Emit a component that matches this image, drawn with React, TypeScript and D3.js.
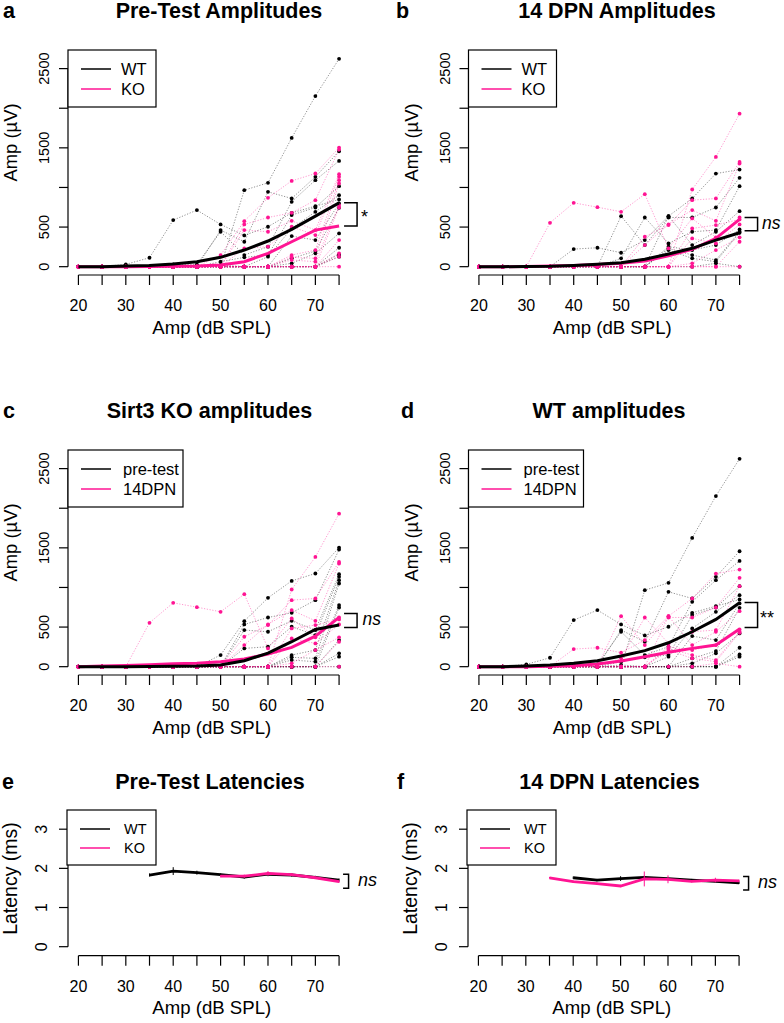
import React from "react";
import * as d3 from "d3";

// sound levels (dB SPL)
const levels = [20, 25, 30, 35, 40, 45, 50, 55, 60, 65, 70, 75];
const xTickLabels = [20, 30, 40, 50, 60, 70];
const ampTicks = [0, 500, 1000, 1500, 2000, 2500];
const ampTickLabels = [0, 500, 1500, 2500];
const latTicks = [0, 1, 2, 3];

// individual animals, amplitude (uV) at each level
const wtPreTraces = [
  [0, 0, 29, 113, 588, 714, 533, 395, 504, 680, 764, 848],
  [0, 0, 0, 0, 0, 0, 0, 966, 1058, 1625, 2154, 2624],
  [0, 0, 0, 0, 0, 0, 462, 315, 945, 861, 1134, 1457],
  [0, 0, 0, 0, 29, 29, 441, 147, 252, 819, 1092, 1335],
  [0, 0, 0, 0, 0, 0, 63, 118, 147, 651, 747, 1016],
  [0, 0, 0, 0, 0, 0, 21, 0, 126, 483, 693, 903],
  [0, 0, 0, 0, 0, 0, 0, 0, 0, 386, 336, 798],
  [0, 0, 0, 0, 0, 0, 0, 0, 0, 105, 197, 743],
  [0, 0, 0, 0, 0, 0, 0, 0, 0, 42, 168, 420],
  [0, 0, 0, 0, 0, 0, 0, 0, 0, 0, 0, 239],
  [0, 0, 0, 0, 0, 0, 0, 0, 0, 0, 0, 155],
  [0, 0, 0, 0, 0, 0, 0, 0, 0, 0, 0, 126],
];
const koPreTraces = [
  [0, 0, 0, 0, 0, 0, 147, 575, 869, 1083, 1176, 1503],
  [0, 0, 0, 0, 0, 0, 0, 533, 621, 680, 840, 1478],
  [0, 0, 0, 0, 0, 0, 0, 462, 441, 579, 462, 1167],
  [0, 0, 0, 0, 0, 0, 0, 231, 252, 504, 399, 1134],
  [0, 0, 0, 0, 0, 0, 0, 0, 0, 147, 210, 1092],
  [0, 0, 0, 0, 0, 0, 0, 0, 0, 118, 105, 1050],
  [0, 0, 0, 0, 0, 0, 0, 0, 0, 84, 63, 777],
  [0, 0, 0, 0, 0, 0, 0, 0, 0, 0, 0, 747],
  [0, 0, 0, 0, 0, 0, 0, 0, 0, 0, 0, 336],
  [0, 0, 0, 0, 0, 0, 0, 0, 0, 0, 0, 168],
  [0, 0, 0, 0, 0, 0, 0, 0, 0, 0, 0, 126],
  [0, 0, 0, 0, 0, 0, 0, 0, 0, 0, 0, 0],
];
const wtDpnTraces = [
  [0, 0, 0, 0, 222, 239, 176, 336, 638, 861, 1175, 1226],
  [0, 0, 0, 0, 0, 0, 638, 273, 621, 621, 747, 1121],
  [0, 0, 0, 0, 0, 0, 105, 621, 294, 441, 462, 1016],
  [0, 0, 0, 0, 0, 0, 0, 0, 638, 273, 441, 701],
  [0, 0, 0, 0, 0, 0, 0, 0, 252, 210, 273, 470],
  [0, 0, 0, 0, 0, 0, 0, 0, 231, 147, 84, 441],
  [0, 0, 0, 0, 0, 0, 0, 0, 210, 105, 63, 428],
  [0, 0, 0, 0, 0, 0, 0, 0, 0, 0, 42, 0],
];
const koDpnTraces = [
  [0, 0, 0, 554, 806, 751, 693, 915, 231, 609, 370, 621],
  [0, 0, 0, 0, 0, 0, 0, 0, 0, 974, 1385, 1931],
  [0, 0, 0, 0, 0, 0, 0, 378, 525, 840, 861, 1322],
  [0, 0, 0, 0, 0, 0, 0, 273, 533, 714, 579, 1301],
  [0, 0, 0, 0, 0, 0, 0, 0, 0, 483, 525, 596],
  [0, 0, 0, 0, 0, 0, 0, 0, 0, 357, 294, 533],
  [0, 0, 0, 0, 0, 0, 0, 0, 0, 42, 210, 370],
  [0, 0, 0, 0, 0, 0, 0, 0, 0, 0, 0, 315],
  [0, 0, 0, 0, 0, 0, 0, 0, 0, 0, 0, 0],
];

// group means drawn in each panel
const meanA_wt = [0, 0, 8, 15, 34, 63, 118, 210, 324, 471, 638, 806];
const meanA_ko = [0, 0, 0, 2, 4, 8, 21, 63, 169, 315, 462, 513];
const meanB_wt = [0, 0, 3, 5, 15, 30, 50, 93, 160, 232, 336, 428];
const meanB_ko = [0, 0, 3, 8, 15, 28, 43, 72, 139, 219, 358, 597];
const meanC_pre = [0, 0, 0, 3, 6, 10, 21, 75, 172, 315, 470, 525];
const meanC_dpn = [0, 8, 15, 25, 37, 42, 63, 97, 160, 244, 386, 622];
const meanD_pre = [0, 0, 8, 21, 42, 75, 135, 202, 302, 441, 597, 806];
const meanD_dpn = [0, 0, 0, 5, 13, 34, 72, 126, 181, 231, 273, 475];

// latencies (ms), mean and SE
const latPreWtLevels = [35, 40, 45, 50, 55, 60, 65, 70, 75];
const latPreWt = [1.83, 1.93, 1.89, 1.84, 1.78, 1.85, 1.83, 1.77, 1.7];
const latPreWtSe = [0.04, 0.1, 0.05, 0.03, 0.04, 0.05, 0.04, 0.04, 0.04];
const latPreKoLevels = [50, 55, 60, 65, 70, 75];
const latPreKo = [1.8, 1.8, 1.87, 1.84, 1.76, 1.66];
const latPreKoSe = [0.03, 0.04, 0.06, 0.04, 0.03, 0.03];
const latDpnWtLevels = [40, 45, 50, 55, 60, 65, 70, 75];
const latDpnWt = [1.76, 1.7, 1.74, 1.77, 1.74, 1.7, 1.67, 1.63];
const latDpnWtSe = [0.03, 0.03, 0.06, 0.04, 0.03, 0.03, 0.03, 0.03];
const latDpnKoLevels = [35, 40, 45, 50, 55, 60, 65, 70, 75];
const latDpnKo = [1.76, 1.66, 1.61, 1.55, 1.73, 1.72, 1.67, 1.7, 1.68];
const latDpnKoSe = [0.02, 0.03, 0.03, 0.03, 0.19, 0.1, 0.03, 0.06, 0.03];

const FONT = "'Liberation Sans', Arial, Helvetica, sans-serif";
const PINK = "#FF1493";

const xDomain: [number, number] = [17.8, 77.2];

function XAxis({ x, y }: { x: d3.ScaleLinear<number, number>; y: number }) {
  return (
    <g>
      <line x1={x(20)} x2={x(75)} y1={y} y2={y} stroke="#000" strokeWidth={1.2} />
      {levels.map((l) => (
        <line key={l} x1={x(l)} x2={x(l)} y1={y} y2={y + 10} stroke="#000" strokeWidth={1.2} />
      ))}
      {xTickLabels.map((l) => (
        <text key={l} x={x(l)} y={y + 36} fontSize={16} textAnchor="middle">
          {l}
        </text>
      ))}
    </g>
  );
}

function Legend({
  x,
  y,
  w,
  labels,
  textDx,
  fs,
  rowH,
}: {
  x: number;
  y: number;
  w: number;
  labels: string[];
  textDx: number;
  fs: number;
  rowH: number;
}) {
  const h = rowH * 2 + 17;
  return (
    <g>
      <rect x={x} y={y} width={w} height={h} fill="#fff" stroke="#000" strokeWidth={1.2} />
      {labels.map((lab, i) => {
        const cy = y + 19 + i * rowH;
        return (
          <g key={lab}>
            <line x1={x + 13} x2={x + 43} y1={cy} y2={cy} stroke={i === 0 ? "#000" : PINK} strokeWidth={1.5} />
            <text x={x + textDx} y={cy + fs * 0.36} fontSize={fs}>
              {lab}
            </text>
          </g>
        );
      })}
    </g>
  );
}

function Bracket({
  x1,
  x2,
  yTop,
  yBot,
  text,
  tx,
  italic,
  fs,
}: {
  x1: number;
  x2: number;
  yTop: number;
  yBot: number;
  text: string;
  tx: number;
  italic: boolean;
  fs: number;
}) {
  const mid = (yTop + yBot) / 2;
  return (
    <g>
      <path d={`M${x1},${yTop}H${x2}V${yBot}H${x1}`} fill="none" stroke="#000" strokeWidth={1.5} />
      <text
        x={tx}
        y={italic ? mid + fs * 0.27 : mid + fs * 0.5}
        fontSize={fs}
        fontStyle={italic ? "italic" : "normal"}
      >
        {text}
      </text>
    </g>
  );
}

interface AmpProps {
  ox: number;
  oy: number;
  label: string;
  labelX: number;
  title: string;
  titleX: number;
  blackTraces: number[][];
  pinkTraces: number[][];
  blackMean: number[];
  pinkMean: number[];
  legendLabels: string[];
  legendW: number;
  legendDx: number;
  bracket: [number, number];
  sig: string;
  sigItalic: boolean;
  sigX: number;
}

function AmpPanel(p: AmpProps) {
  const x = d3.scaleLinear().domain(xDomain).range([p.ox + 68, p.ox + 349.5]);
  const y = d3.scaleLinear().domain([-105, 2735]).range([p.oy + 275, p.oy + 50]);
  const line = d3
    .line<number>()
    .x((_, i) => x(levels[i]))
    .y((d) => y(d));
  const axX = p.ox + 68;
  const traces = (set: number[][], color: string, key: string) =>
    set.map((t, ti) => (
      <g key={key + ti}>
        <path d={line(t) || ""} fill="none" stroke={color} strokeOpacity={0.55} strokeWidth={0.8} strokeDasharray="1.2 1.6" />
        {t.map((v, i) => (
          <circle key={i} cx={x(levels[i])} cy={y(v)} r={1.9} fill={color} />
        ))}
      </g>
    ));
  const x75 = x(75);
  return (
    <g>
      <text x={p.labelX} y={p.oy + 17.5} fontSize={21.5} fontWeight="bold">
        {p.label}
      </text>
      <text x={p.titleX} y={p.oy + 17.5} fontSize={21.5} fontWeight="bold" textAnchor="middle">
        {p.title}
      </text>
      {/* y axis */}
      <line x1={axX} x2={axX} y1={y(0)} y2={y(2500)} stroke="#000" strokeWidth={1.2} />
      {ampTicks.map((t) => (
        <line key={t} x1={axX - 9} x2={axX} y1={y(t)} y2={y(t)} stroke="#000" strokeWidth={1.2} />
      ))}
      {ampTickLabels.map((t) => (
        <text key={t} transform={`translate(${p.ox + 49},${y(t)}) rotate(-90)`} fontSize={14.5} textAnchor="middle">
          {t}
        </text>
      ))}
      <text transform={`translate(${p.ox + 17},${p.oy + 142.5}) rotate(-90)`} fontSize={18.4} textAnchor="middle">
        Amp (µV)
      </text>
      <XAxis x={x} y={p.oy + 275} />
      <text x={(x(20) + x(75)) / 2 + 3} y={p.oy + 334} fontSize={18.6} textAnchor="middle">
        Amp (dB SPL)
      </text>
      {traces(p.blackTraces, "#000", "b")}
      {traces(p.pinkTraces, PINK, "p")}
      <path d={line(p.pinkMean) || ""} fill="none" stroke={PINK} strokeWidth={3} />
      <path d={line(p.blackMean) || ""} fill="none" stroke="#000" strokeWidth={3} />
      <Legend x={axX} y={p.oy + 50} w={p.legendW} labels={p.legendLabels} textDx={p.legendDx} fs={16.5} rowH={20} />
      <Bracket
        x1={x75 + 5}
        x2={x75 + 18}
        yTop={y(p.bracket[1])}
        yBot={y(p.bracket[0])}
        text={p.sig}
        tx={p.sigX}
        italic={p.sigItalic}
        fs={p.sigItalic ? 17.5 : 18}
      />
    </g>
  );
}

interface LatSeries {
  lv: number[];
  m: number[];
  se: number[];
  color: string;
}

interface LatProps {
  ox: number;
  label: string;
  labelX: number;
  title: string;
  titleX: number;
  series: LatSeries[];
  bracket: [number, number];
}

function LatPanel(p: LatProps) {
  const x = d3.scaleLinear().domain(xDomain).range([p.ox + 68, p.ox + 349.5]);
  const y = d3.scaleLinear().domain([-0.23, 3.49]).range([955.7, 810]);
  const axX = p.ox + 68;
  const x75 = x(75);
  return (
    <g>
      <text x={p.labelX} y={788.5} fontSize={21.5} fontWeight="bold">
        {p.label}
      </text>
      <text x={p.titleX} y={788.5} fontSize={21.5} fontWeight="bold" textAnchor="middle">
        {p.title}
      </text>
      <line x1={axX} x2={axX} y1={y(0)} y2={y(3)} stroke="#000" strokeWidth={1.2} />
      {latTicks.map((t) => (
        <g key={t}>
          <line x1={axX - 9} x2={axX} y1={y(t)} y2={y(t)} stroke="#000" strokeWidth={1.2} />
          <text transform={`translate(${p.ox + 47},${y(t)}) rotate(-90)`} fontSize={16} textAnchor="middle">
            {t}
          </text>
        </g>
      ))}
      <text transform={`translate(${p.ox + 17},${878.5}) rotate(-90)`} fontSize={19.5} textAnchor="middle">
        Latency (ms)
      </text>
      <XAxis x={x} y={955.7} />
      <text x={(x(20) + x(75)) / 2 + 3} y={1014.3} fontSize={18.6} textAnchor="middle">
        Amp (dB SPL)
      </text>
      {p.series.map((s, si) => {
        const line = d3
          .line<number>()
          .x((_, i) => x(s.lv[i]))
          .y((d) => y(d));
        return (
          <g key={si}>
            <path d={line(s.m) || ""} fill="none" stroke={s.color} strokeWidth={2.8} />
            {s.m.map((v, i) => (
              <line
                key={i}
                x1={x(s.lv[i])}
                x2={x(s.lv[i])}
                y1={y(v - s.se[i])}
                y2={y(v + s.se[i])}
                stroke={s.color}
                strokeWidth={1}
              />
            ))}
          </g>
        );
      })}
      <Legend x={axX - 1} y={810} w={89} labels={["WT", "KO"]} textDx={57} fs={14.5} rowH={19} />
      <Bracket
        x1={x75 + 4}
        x2={x75 + 9.5}
        yTop={y(p.bracket[1])}
        yBot={y(p.bracket[0])}
        text="ns"
        tx={p.ox + 358}
        italic={true}
        fs={18}
      />
    </g>
  );
}

export default function App() {
  return (
    <svg
      width={784}
      height={1023}
      style={{ position: "absolute", left: 0, top: 0, background: "#fff" }}
      fontFamily={FONT}
    >
      <rect width={784} height={1023} fill="#fff" />
      <AmpPanel
        ox={0}
        oy={0}
        label="a"
        labelX={3}
        title="Pre-Test Amplitudes"
        titleX={219}
        blackTraces={wtPreTraces}
        pinkTraces={koPreTraces}
        blackMean={meanA_wt}
        pinkMean={meanA_ko}
        legendLabels={["WT", "KO"]}
        legendW={88}
        legendDx={53}
        bracket={[513, 806]}
        sig="*"
        sigItalic={false}
        sigX={361}
      />
      <AmpPanel
        ox={400.5}
        oy={0}
        label="b"
        labelX={396}
        title="14 DPN Amplitudes"
        titleX={617}
        blackTraces={wtDpnTraces}
        pinkTraces={koDpnTraces}
        blackMean={meanB_wt}
        pinkMean={meanB_ko}
        legendLabels={["WT", "KO"]}
        legendW={88}
        legendDx={53}
        bracket={[453, 621]}
        sig="ns"
        sigItalic={true}
        sigX={762}
      />
      <AmpPanel
        ox={0}
        oy={400}
        label="c"
        labelX={3}
        title="Sirt3 KO amplitudes"
        titleX={209.5}
        blackTraces={koPreTraces}
        pinkTraces={koDpnTraces}
        blackMean={meanC_pre}
        pinkMean={meanC_dpn}
        legendLabels={["pre-test", "14DPN"]}
        legendW={115}
        legendDx={55}
        bracket={[495, 672]}
        sig="ns"
        sigItalic={true}
        sigX={362.5}
      />
      <AmpPanel
        ox={400.5}
        oy={400}
        label="d"
        labelX={401}
        title="WT amplitudes"
        titleX={609}
        blackTraces={wtPreTraces}
        pinkTraces={wtDpnTraces}
        blackMean={meanD_pre}
        pinkMean={meanD_dpn}
        legendLabels={["pre-test", "14DPN"]}
        legendW={115}
        legendDx={55}
        bracket={[495, 810]}
        sig="**"
        sigItalic={false}
        sigX={760}
      />
      <LatPanel
        ox={0}
        label="e"
        labelX={2}
        title="Pre-Test Latencies"
        titleX={210}
        series={[
          { lv: latPreWtLevels, m: latPreWt, se: latPreWtSe, color: "#000" },
          { lv: latPreKoLevels, m: latPreKo, se: latPreKoSe, color: PINK },
        ]}
        bracket={[1.49, 1.85]}
      />
      <LatPanel
        ox={400}
        label="f"
        labelX={397}
        title="14 DPN Latencies"
        titleX={609.5}
        series={[
          { lv: latDpnWtLevels, m: latDpnWt, se: latDpnWtSe, color: "#000" },
          { lv: latDpnKoLevels, m: latDpnKo, se: latDpnKoSe, color: PINK },
        ]}
        bracket={[1.45, 1.79]}
      />
    </svg>
  );
}
